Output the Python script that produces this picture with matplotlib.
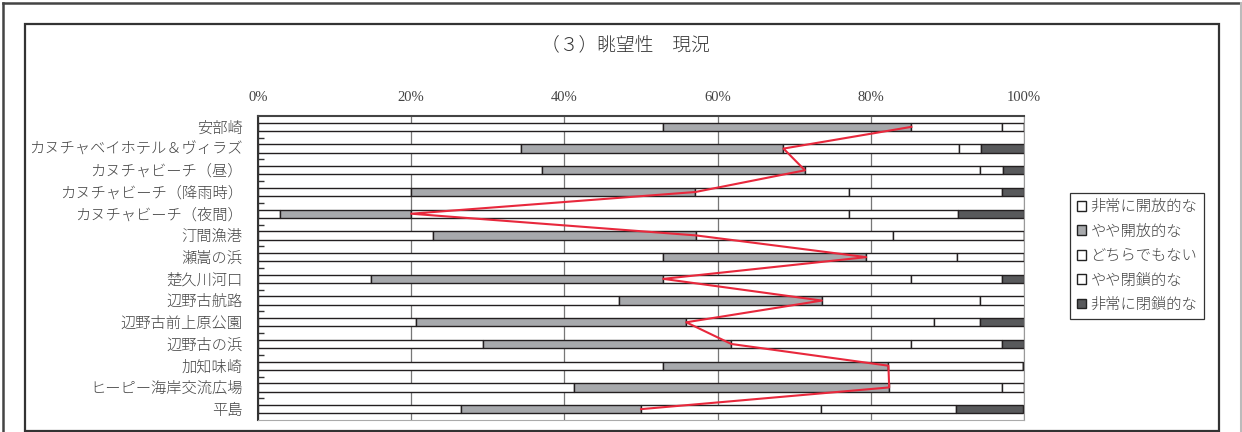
import matplotlib
matplotlib.use("Agg")
import matplotlib.pyplot as plt
import numpy as np
from matplotlib.patches import Patch, Rectangle
from matplotlib.lines import Line2D

plt.rcParams["font.family"] = ["Noto Sans CJK JP", "DejaVu Sans"]

# data (percent of respondents)
categories = ["安部崎", "カヌチャベイホテル＆ヴィラズ", "カヌチャビーチ（昼）",
              "カヌチャビーチ（降雨時）", "カヌチャビーチ（夜間）", "汀間漁港",
              "瀬嵩の浜", "楚久川河口", "辺野古航路", "辺野古前上原公園",
              "辺野古の浜", "加知味崎", "ヒーピー海岸交流広場", "平島"]
very_open = [52.9, 34.3, 37.1, 20.0, 2.9, 22.9, 52.9, 14.7, 47.1, 20.6, 29.4, 52.9, 41.2, 26.5]
rather_open = [32.4, 34.3, 34.3, 37.1, 17.1, 34.3, 26.5, 38.2, 26.5, 35.3, 32.4, 29.4, 41.2, 23.5]
neutral = [11.8, 22.9, 22.9, 20.0, 57.1, 25.7, 11.8, 32.4, 20.6, 32.4, 23.5, 17.6, 14.7, 23.5]
rather_closed = [2.9, 2.9, 2.9, 20.0, 14.3, 17.1, 8.8, 11.8, 5.9, 5.9, 11.8, 0.0, 2.9, 17.6]
very_closed = [0.0, 5.7, 2.9, 2.9, 8.6, 0.0, 0.0, 2.9, 0.0, 5.9, 2.9, 0.0, 0.0, 8.8]
series_names = ["非常に開放的な", "やや開放的な", "どちらでもない", "やや閉鎖的な", "非常に閉鎖的な"]
x_ticks = [0, 20, 40, 60, 80, 100]
x_tick_labels = ["0%", "20%", "40%", "60%", "80%", "100%"]

colors = ["#ffffff", "#a7a9ac", "#ffffff", "#ffffff", "#58595b"]
EDGE = "#231f20"

W, H = 1242, 432
fig = plt.figure(figsize=(W / 100, H / 100), dpi=100)


def fx(px):
    return px / W


def fy(py):
    return 1 - py / H


ax = fig.add_axes([fx(258), fy(420), fx(1024) - fx(258), fy(116) - fy(420)])

y = np.arange(len(categories))
left = np.zeros(len(categories))
for vals, col in zip([very_open, rather_open, neutral, rather_closed, very_closed], colors):
    ax.barh(y, vals, left=left, height=0.38, color=col, edgecolor=EDGE,
            linewidth=1.0, zorder=2)
    left = left + np.array(vals)

open_total = np.array(very_open) + np.array(rather_open)
ax.plot(open_total, y, color="#e8283c", linewidth=1.5, zorder=3)

ax.set_xlim(0, 100)
ax.set_ylim(len(categories) - 0.5, -0.5)
ax.set_xticks(x_ticks)
ax.set_xticklabels(x_tick_labels, family="Liberation Serif", fontsize=10.5, color="#444444")
ax.xaxis.tick_top()
ax.tick_params(axis="x", length=0, pad=9)
ax.set_yticks(y)
ax.set_yticklabels(categories, fontsize=11, color="#444444", fontweight="light")
ax.tick_params(axis="y", which="major", length=0, pad=11)
ax.set_yticks(np.arange(len(categories) - 1) + 0.5, minor=True)
ax.tick_params(axis="y", which="minor", direction="in", length=4, width=1, color="#333333")
ax.grid(axis="x", color="#777777", linewidth=0.9, zorder=0)
ax.set_axisbelow(True)

ax.spines["left"].set_color("#333333")
ax.spines["left"].set_linewidth(1.5)
ax.spines["top"].set_color("#444444")
ax.spines["top"].set_linewidth(1.5)
ax.spines["right"].set_color("#999999")
ax.spines["bottom"].set_color("#aaaaaa")

fig.text(fx(625), fy(45), "（３）眺望性　現況", ha="center", va="center",
         fontsize=13.5, color="#333333", fontweight="light")

handles = [Patch(facecolor=c, edgecolor="#222222", linewidth=1.0) for c in colors]
leg = fig.legend(handles, series_names, loc="center",
                 bbox_to_anchor=(fx(1137), fy(256)), fontsize=11,
                 frameon=True, fancybox=False, edgecolor="#333333",
                 framealpha=1, handlelength=0.6, handleheight=0.6,
                 handletextpad=0.3, labelspacing=0.68, borderpad=0.45)
leg.get_frame().set_linewidth(0.9)
for t in leg.get_texts():
    t.set_color("#444444")
    t.set_fontweight("light")

# outer and inner frames
fig.add_artist(Line2D([fx(3), fx(3)], [fy(2.5), 0], color="#444444", linewidth=1.8))
fig.add_artist(Line2D([fx(3), fx(1240)], [fy(2.5), fy(2.5)], color="#444444", linewidth=1.8))
fig.add_artist(Line2D([fx(1240.5), fx(1240.5)], [fy(2.5), 0], color="#bbbbbb", linewidth=1.5))
fig.add_artist(Rectangle((fx(25), fy(431)), fx(1219) - fx(25), fy(23.5) - fy(431),
                         fill=False, edgecolor="#333333", linewidth=1.6))

fig.savefig("out.png", dpi=100)
